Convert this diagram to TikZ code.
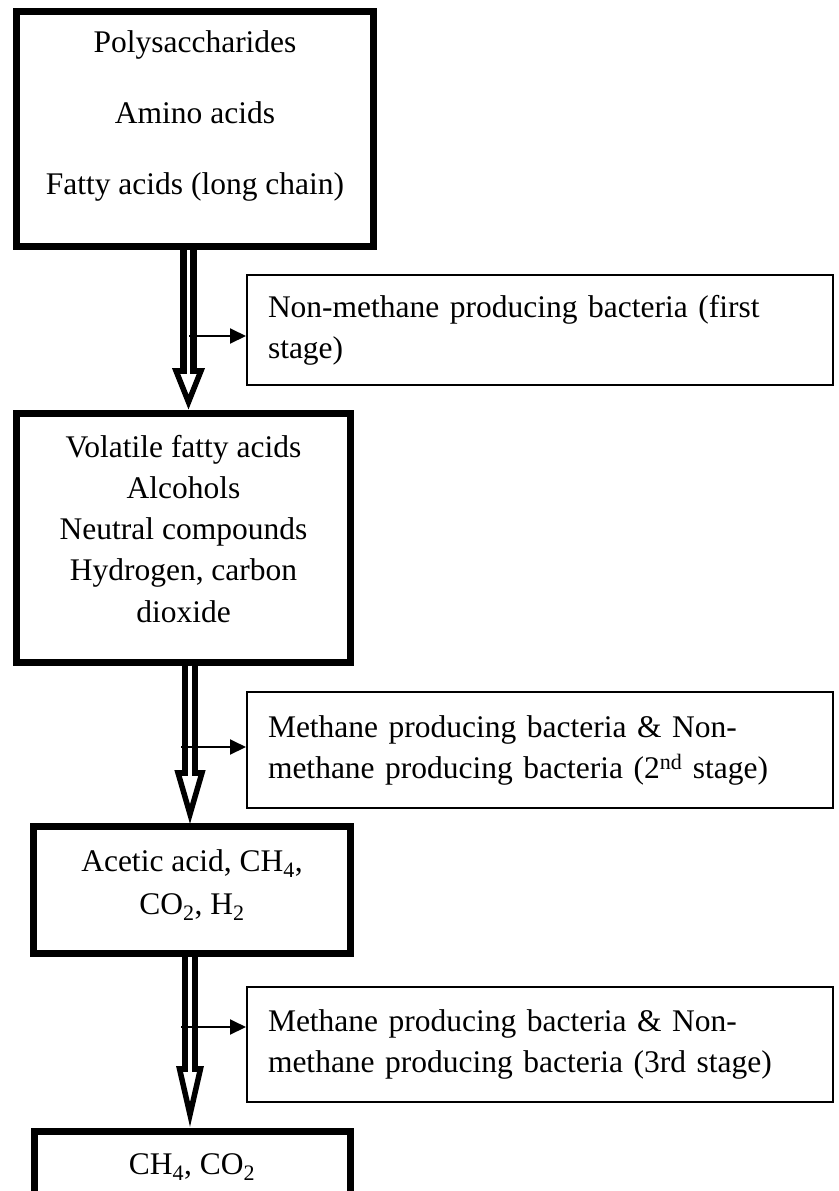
\documentclass[tikz,border=0pt]{standalone}
\usepackage{fontspec}
\setmainfont{Liberation Serif}
\usetikzlibrary{arrows.meta,calc}

\tikzset{
  bigbox/.style={draw, line width=7pt, align=center, inner sep=0pt},
  notebox/.style={draw, line width=2pt, align=left, inner xsep=21pt, inner ysep=0pt, text width=544pt,
                  font={\fontsize{31.5}{41}\selectfont}},
  fatshaft/.style={line width=6.5pt, double=white, double distance=3.5pt},
  fathead/.style={line width=5.5pt, fill=white, line join=miter},
  thinarrow/.style={line width=2pt, -{Triangle[length=16pt,width=15pt]}}
}

\begin{document}
\begin{tikzpicture}[x=1pt,y=-1pt]
 \path[fill=white, use as bounding box] (0,0) rectangle (838,1191);

 % main chain
 \draw (195,129) node[bigbox, minimum width=357pt, minimum height=235pt, font={\fontsize{31.5}{71}\selectfont}] (poly)
   {Polysaccharides\\Amino acids\\Fatty acids (long chain)\rule[-32pt]{0pt}{32pt}};
 \draw (183.5,537.5) node[bigbox, minimum width=334pt, minimum height=249pt, font={\fontsize{31.5}{41.25}\selectfont}] (vfa)
   {Volatile fatty acids\\Alcohols\\Neutral compounds\\Hydrogen, carbon\\dioxide\rule[-18pt]{0pt}{18pt}};
 \draw (192,890) node[bigbox, minimum width=317pt, minimum height=127pt, font={\fontsize{31.5}{43}\selectfont}] (acetic)
   {Acetic acid, CH\textsubscript{4},\\CO\textsubscript{2}, H\textsubscript{2}\rule[-15pt]{0pt}{15pt}};
 \draw (192,1167) node[bigbox, minimum width=316pt, minimum height=72pt, font={\fontsize{31.5}{41}\selectfont}] (gas)
   {CH\textsubscript{4}, CO\textsubscript{2}};

 % bacteria
 \draw (540,330) node[notebox, minimum height=110pt] (stage1)
   {Non-methane producing bacteria (first\\stage)};
 \draw (540,750) node[notebox, minimum height=116pt] (stage2)
   {Methane producing bacteria \& Non-\\methane producing bacteria (2\textsuperscript{nd} stage)};
 \draw (540,1044.5) node[notebox, minimum height=115pt] (stage3)
   {Methane producing bacteria \& Non-\\methane producing bacteria (3rd stage)};

 % fat arrows
 \coordinate (h1) at (188.5,368);
 \coordinate (h2) at (190,770);
 \coordinate (h3) at (190,1066);
 \draw[fathead] ($(h1)+(-12.5,2.75)$) -- ($(h1)+(12.5,2.75)$) -- ($(vfa.north -| h1)+(0,-7.5)$) -- cycle;
 \draw[fathead] ($(h2)+(-12,2.75)$) -- ($(h2)+(12,2.75)$) -- ($(acetic.north -| h2)+(0,-9)$) -- cycle;
 \draw[fathead] ($(h3)+(-10.5,2.75)$) -- ($(h3)+(10.5,2.75)$) -- ($(gas.north -| h3)+(0,-13)$) -- cycle;
 \draw[fatshaft] (poly.south -| h1) -- ($(h1)+(0,5.5)$);
 \draw[fatshaft] (vfa.south -| h2) -- ($(h2)+(0,5.5)$);
 \draw[fatshaft] (acetic.south -| h3) -- ($(h3)+(0,5.5)$);

 % side arrows
 \coordinate (s1) at (189,336);
 \coordinate (s2) at (181,747);
 \coordinate (s3) at (181,1027);
 \draw[thinarrow] (s1) -- (s1 -| stage1.west);
 \draw[thinarrow] (s2) -- (s2 -| stage2.west);
 \draw[thinarrow] (s3) -- (s3 -| stage3.west);
\end{tikzpicture}
\end{document}
